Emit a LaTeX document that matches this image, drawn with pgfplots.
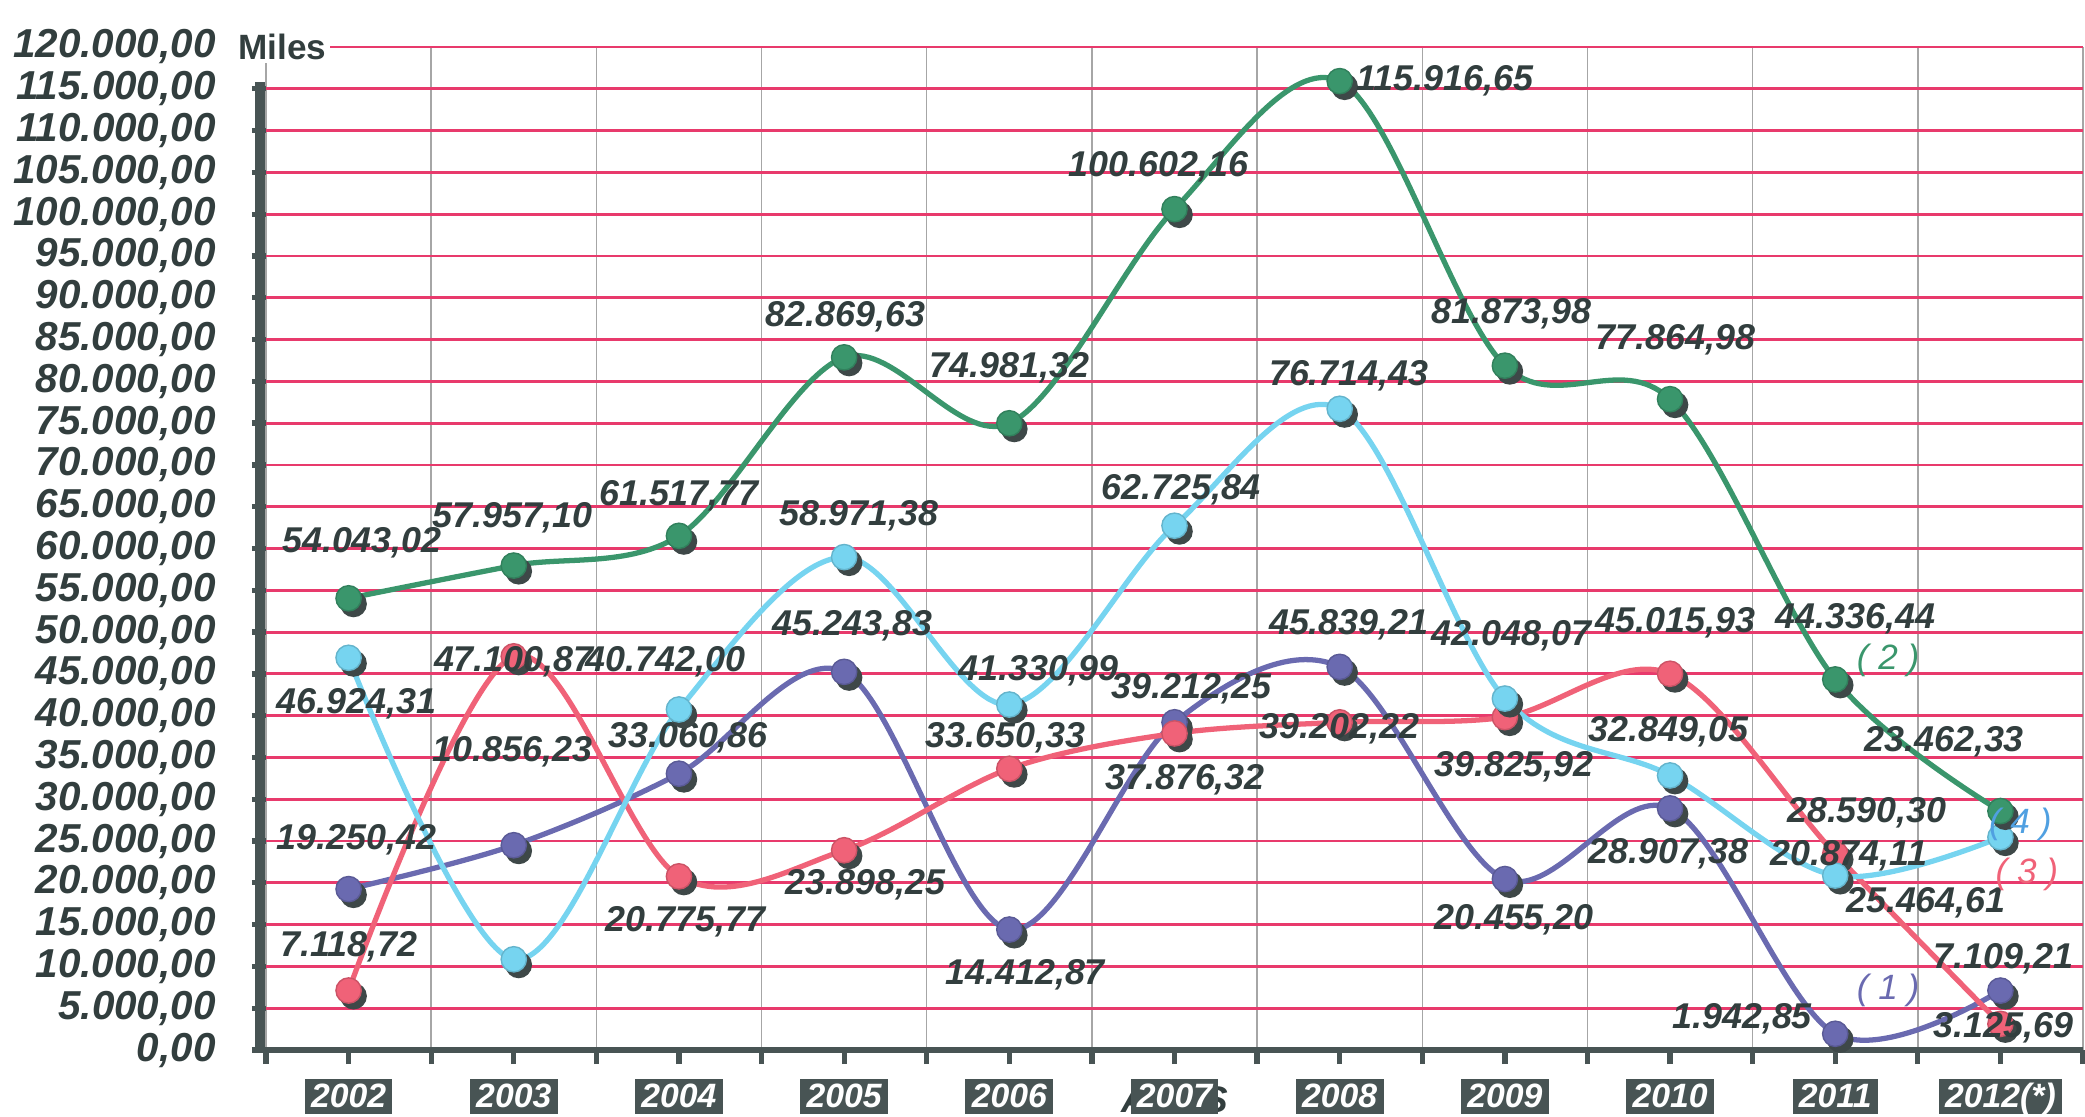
\documentclass[border=0pt]{standalone}
\usepackage{pgfplots}
\pgfplotsset{compat=1.18}
\usepackage{pgfplotstable}
\usepackage{fontspec}
\setmainfont{Liberation Sans}
\definecolor{gridpink}{RGB}{232,58,108}
\definecolor{axisdark}{RGB}{72,84,84}
\definecolor{txtdark}{RGB}{50,62,62}
\definecolor{sgreen}{RGB}{58,150,108}
\definecolor{scyan}{RGB}{118,212,240}
\definecolor{spurple}{RGB}{106,106,176}
\definecolor{spink}{RGB}{240,98,120}
\definecolor{shadowc}{RGB}{62,72,72}
\definecolor{idblue}{RGB}{80,160,225}
\newcommand{\tickfont}{\fontsize{11.5}{12}\selectfont\bfseries\itshape}
\newcommand{\lblfont}{\fontsize{10.2}{11}\selectfont\bfseries\itshape}

\pgfplotstableread{
x y dx dy lbl
0 54043.02 3.8 15.9 54.043,02
1 57957.10 -0.4 13.7 57.957,10
2 61517.77 0 11.3 61.517,77
3 82869.63 0.4 11.6 82.869,63
4 74981.32 0 15.9 74.981,32
5 100602.16 -4.5 12.1 100.602,16
6 115916.65 29.9 0 115.916,65
7 81873.98 1.9 14.8 81.873,98
8 77864.98 1.5 17 77.864,98
9 44336.44 5.7 17.4 44.336,44
10 28590.30 -38 -0.5 28.590,30
}\tabGreen
\pgfplotstableread{
x y dx dy lbl
0 46924.31 2.3 -13.2 46.924,31
1 10856.23 -0.4 59 10.856,23
2 40742.00 -3.8 13.5 40.742,00
3 58971.38 4.2 11.7 58.971,38
4 41330.99 8.3 9.5 41.330,99
5 62725.84 1.9 10.2 62.725,84
6 76714.43 2.6 9.5 76.714,43
7 42048.07 1.9 17.8 42.048,07
8 32849.05 -0.4 12.5 32.849,05
9 20874.11 3.8 5.6 20.874,11
10 25464.61 -21.2 -18.6 25.464,61
}\tabCyan
\pgfplotstableread{
x y dx dy lbl
0 19250.42 2.3 14 19.250,42
1 24500 0 0 {}
2 33060.86 2.6 10.2 33.060,86
3 45243.83 2.3 13.2 45.243,83
4 14412.87 4.5 -12.9 14.412,87
5 39212.25 4.9 9.5 39.212,25
6 45839.21 2.6 12.1 45.839,21
7 20455.20 2.6 -11.7 20.455,20
8 28907.38 -0.4 -12.9 28.907,38
9 1942.85 -26.5 4.2 1.942,85
10 7109.21 0.8 9.2 7.109,21
}\tabPurple
\pgfplotstableread{
x y dx dy lbl
0 7118.72 0 12.5 7.118,72
1 47100.87 0 -1.5 47.100,87
2 20775.77 1.9 -12.9 20.775,77
3 23898.25 6 -9.8 23.898,25
4 33650.33 -1.1 8.7 33.650,33
5 37876.32 3 -13.2 37.876,32
6 39202.22 0 -1.9 39.202,22
7 39825.92 2.6 -14 39.825,92
8 45015.93 1.5 14.4 45.015,93
9 23462.33 31 32 23.462,33
10 3125.69 0.8 -1 3.125,69
}\tabPink

\pgfplotsset{
  serline/.style={#1, line width=1.5pt, smooth, tension=0.55, no marks},
  sershadow/.style={only marks, mark=*, mark size=3.6pt, shadowc,
     mark options={draw=shadowc, fill=shadowc, xshift=1.4pt, yshift=-1.6pt}},
  serpts/.style={only marks, mark=*, mark size=3.6pt, #1,
     mark options={draw=#1!85!black, fill=#1},
     point meta=explicit symbolic,
     visualization depends on={\thisrow{dx}\as\myDx},
     visualization depends on={\thisrow{dy}\as\myDy},
     nodes near coords={\pgfplotspointmeta},
     every node near coord/.append style={anchor=center, xshift=\myDx*1pt, yshift=\myDy*1pt,
        font=\lblfont, text=txtdark, inner sep=0pt}},
}

\begin{document}
\begin{tikzpicture}
\begin{axis}[
  name=ax,
  set layers,
  scale only axis,
  width=18.17cm, height=10.03cm,
  xmin=-0.5, xmax=10.5, ymin=0, ymax=120000,
  clip=false,
  axis lines*=left,
  x axis line style={axisdark, line width=1.8pt},
  y axis line style={draw=none},
  xtick={0,...,10},
  xticklabels={2002,2003,2004,2005,2006,2007,2008,2009,2010,2011,2012(*)},
  minor xtick={-0.5,0.5,...,10.5},
  ytick={0,5000,...,120000},
  scaled y ticks=false,
  tick align=outside,
  major tick length=4pt, minor tick length=4pt,
  tick style={axisdark, line width=1.5pt},
  xminorgrids=true,
  minor x grid style={gray!70, line width=0.4pt},
  ymajorgrids=true,
  major y grid style={gridpink, line width=0.8pt},
  /pgf/number format/assume math mode=true,
  yticklabel style={font=\tickfont, text=txtdark, xshift=-6.8pt,
     /pgf/number format/.cd, fixed, fixed zerofill, precision=2, use comma, 1000 sep={.}},
  xticklabel style={font=\fontsize{9.6}{10}\selectfont\bfseries\itshape, text=white, fill=axisdark,
     inner xsep=1.8pt, inner ysep=1.2pt, text height=6.9pt, text depth=0.6pt, yshift=-4pt},
]
\begin{pgfonlayer}{axis background}
\node[font=\fontsize{10.5}{11}\selectfont\bfseries\itshape, text=txtdark] at ([yshift=-13.2pt]axis cs:5,0) {AÑOS};
\end{pgfonlayer}

\addplot[serline=spurple] table[x=x,y=y]{\tabPurple};
\addplot[sershadow] table[x=x,y=y]{\tabPurple};
\addplot[serpts=spurple] table[x=x,y=y,meta=lbl]{\tabPurple};

\addplot[serline=spink] table[x=x,y=y]{\tabPink};
\addplot[sershadow] table[x=x,y=y]{\tabPink};
\addplot[serpts=spink] table[x=x,y=y,meta=lbl]{\tabPink};

\addplot[serline=scyan] table[x=x,y=y]{\tabCyan};
\addplot[sershadow] table[x=x,y=y]{\tabCyan};
\addplot[serpts=scyan] table[x=x,y=y,meta=lbl]{\tabCyan};

\addplot[serline=sgreen] table[x=x,y=y]{\tabGreen};
\addplot[sershadow] table[x=x,y=y]{\tabGreen};
\addplot[serpts=sgreen] table[x=x,y=y,meta=lbl]{\tabGreen};

\begin{pgfonlayer}{axis foreground}
\node[font=\fontsize{10}{11}\selectfont\itshape, text=sgreen] at (axis cs:9.32,46570) {( 2 )};
\node[font=\fontsize{10}{11}\selectfont\itshape, text=idblue] at (axis cs:10.12,27020) {( 4 )};
\node[font=\fontsize{10}{11}\selectfont\itshape, text=spink] at (axis cs:10.16,20980) {( 3 )};
\node[font=\fontsize{10}{11}\selectfont\itshape, text=spurple] at (axis cs:9.32,7150) {( 1 )};
\end{pgfonlayer}

\draw[axisdark, line width=2.8pt] ([xshift=-1.7pt]axis cs:-0.5,0) -- ([xshift=-1.7pt]axis cs:-0.5,115800);
\node[anchor=west, fill=white, inner sep=1pt, font=\fontsize{10}{11}\selectfont\bfseries, text=txtdark] at ([xshift=-0.32cm]axis cs:-0.5,120000) {Miles};
\end{axis}
\pgfresetboundingbox
\path[use as bounding box] ([xshift=-2.66cm,yshift=-0.66cm]ax.south west) rectangle ([xshift=0.02cm,yshift=0.47cm]ax.north east);
\end{tikzpicture}
\end{document}
